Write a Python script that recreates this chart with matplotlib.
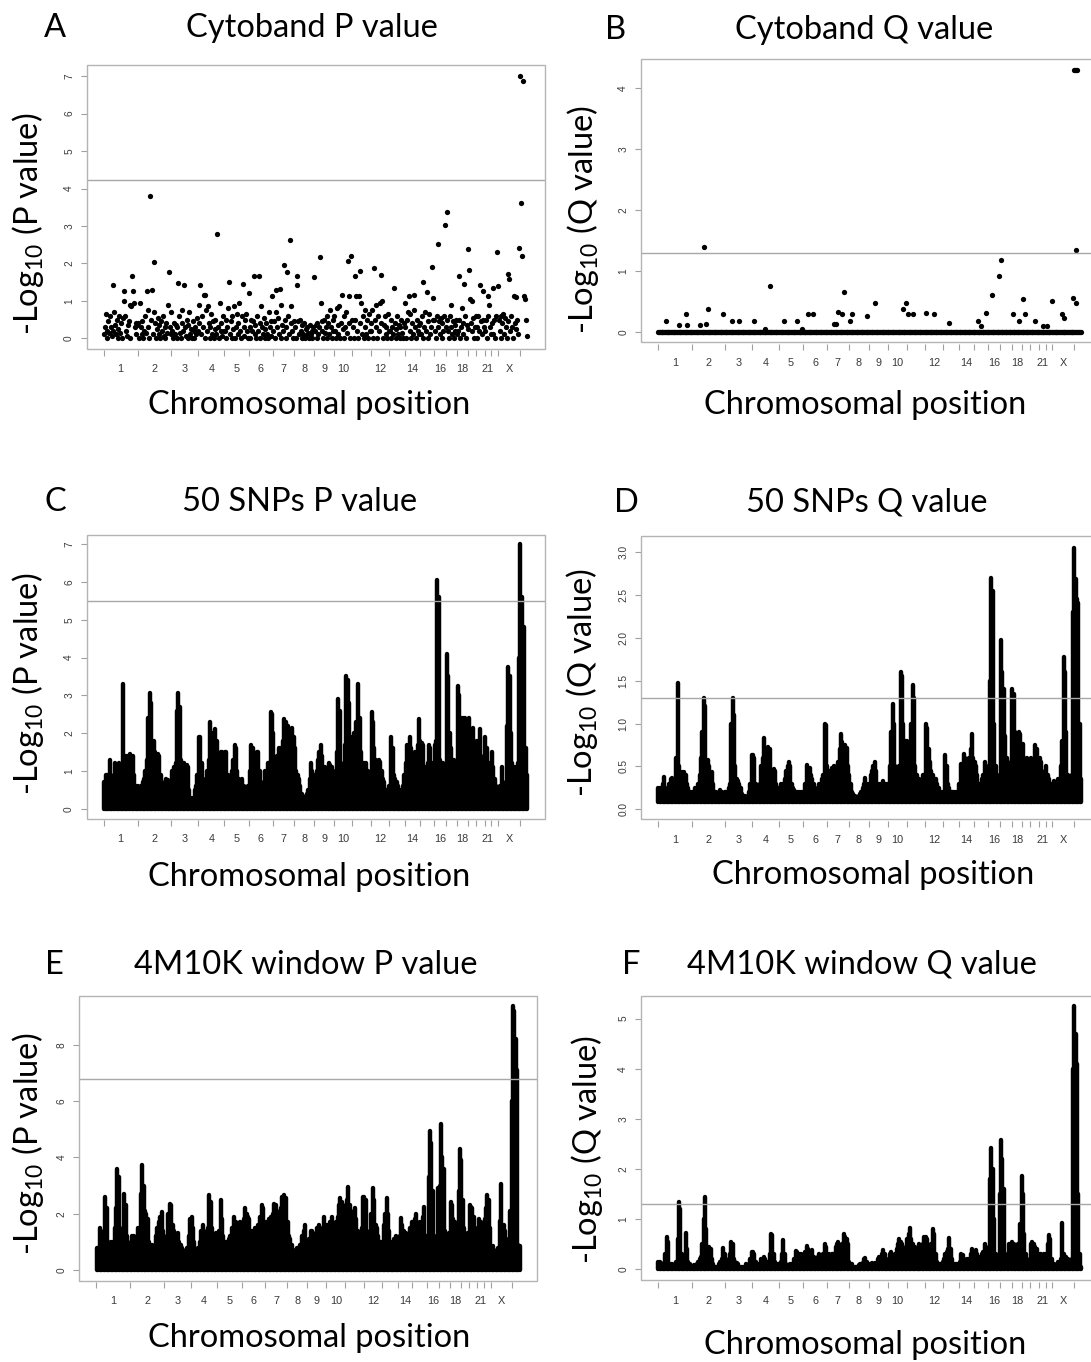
import numpy as np
import matplotlib
matplotlib.use('Agg')
import matplotlib.pyplot as plt
from matplotlib.patches import Rectangle

# chromosome layout (Mb), last segment is the unlabelled one after X
chrom_names = ['1', '2', '3', '4', '5', '6', '7', '8', '9', '10', '11', '12', '13',
               '14', '15', '16', '17', '18', '19', '20', '21', '22', 'X', 'Y']
chrom_len = [249, 243, 198, 191, 181, 171, 159, 146, 141, 136, 135, 134, 115,
             107, 103, 90, 81, 78, 59, 63, 48, 51, 155, 59]
shown_labels = ['1', '2', '3', '4', '5', '6', '7', '8', '9', '10', '12', '14',
                '16', '18', '21', 'X']

# A: cytoband -log10 P, one list per chromosome (bands in order)
cyto_p = [
    [0.1, 0.3, 0.65, 0.2, 0.0, 0.45, 0.15, 0.6, 0.3, 0.05, 1.41, 0.2, 0.7, 0.35, 0.1, 0.5, 0.0, 0.25, 0.6, 0.15,
     0.4, 0.0, 0.55, 1.0, 1.25, 0.6, 0.2, 0.05, 0.35, 0.45, 0.0, 0.9, 0.85, 1.65, 1.25, 0.95, 0.3, 0.4, 0.1, 0.35],
    [0.4, 0.0, 0.95, 0.3, 0.1, 0.45, 0.0, 0.2, 0.6, 0.15, 1.25, 0.75, 0.3, 0.0, 3.79, 0.5, 1.3, 0.1, 2.03, 0.7,
     0.4, 0.0, 0.25, 0.55, 0.1, 0.35, 0.0, 0.45, 0.2, 0.6, 0.05, 0.3, 0.0, 0.4, 0.15, 0.9, 1.76, 0.3, 0.1],
    [0.7, 0.2, 0.0, 0.4, 0.1, 0.35, 0.0, 0.3, 1.48, 0.6, 0.15, 0.0, 0.4, 0.75, 0.2, 1.43, 0.3, 0.05, 0.5, 0.0,
     0.35, 0.7, 0.1, 0.25, 0.0, 0.45, 0.2, 0.0, 0.3, 0.1, 0.55, 0.2],
    [0.4, 0.9, 1.41, 0.1, 0.6, 0.3, 1.15, 1.15, 0.0, 0.75, 0.2, 0.85, 0.4, 0.0, 0.3, 0.65, 0.1, 0.45, 0.0, 0.25,
     0.5, 0.1, 2.78, 0.3, 0.0, 0.95, 0.2, 0.4, 0.05, 0.6, 0.2],
    [0.2, 0.5, 0.0, 0.3, 0.8, 1.5, 0.1, 0.45, 0.0, 0.6, 0.25, 0.85, 0.0, 0.3, 0.65, 0.1, 0.4, 0.95, 0.2, 0.0,
     0.6, 1.46, 0.3, 0.05, 0.5, 0.65, 0.2, 0.0, 1.2],
    [0.3, 0.0, 0.5, 0.2, 0.45, 1.67, 0.1, 0.35, 0.0, 0.6, 0.2, 1.67, 0.4, 0.0, 0.85, 0.3, 0.1, 0.55, 0.0, 0.25,
     0.4, 0.1, 0.0, 0.7, 0.3, 0.45, 0.05, 1.14],
    [0.2, 0.45, 0.0, 0.7, 1.3, 0.3, 0.55, 0.1, 1.32, 0.0, 0.9, 0.35, 0.2, 1.96, 0.5, 0.0, 0.3, 1.76, 0.6, 0.1,
     2.63, 0.4, 0.87, 0.2, 0.0, 0.45],
    [0.3, 0.0, 1.43, 1.67, 0.45, 0.1, 0.5, 0.2, 0.0, 0.35, 0.1, 0.4, 0.0, 0.25, 0.05, 0.3, 0.15, 0.0, 0.35, 0.1,
     0.2, 0.0, 0.3, 1.63],
    [0.2, 0.35, 0.0, 0.4, 0.1, 0.3, 2.17, 0.94, 0.2, 0.45, 0.0, 0.5, 0.15, 0.3, 0.6, 0.0, 0.4, 0.1, 0.75, 0.3,
     0.0, 0.5, 0.2],
    [0.6, 0.2, 0.0, 0.8, 0.35, 0.1, 0.85, 0.0, 0.4, 1.16, 0.25, 0.6, 0.0, 0.3, 0.7, 0.15, 2.05, 1.12, 0.4, 0.0,
     2.19, 0.5],
    [0.3, 0.0, 0.5, 1.67, 1.12, 0.2, 0.0, 1.12, 1.79, 0.4, 0.95, 0.1, 0.6, 0.0, 0.75, 0.3, 0.1, 0.5, 0.0, 0.65,
     0.2, 0.4],
    [0.2, 0.75, 0.0, 1.88, 0.5, 0.9, 0.3, 0.0, 0.6, 0.2, 0.95, 1.69, 0.4, 1.0, 0.0, 0.35, 0.6, 0.1, 0.3, 0.0,
     0.65, 0.2],
    [0.2, 0.0, 0.5, 0.3, 0.1, 1.34, 0.4, 0.0, 0.25, 0.6, 0.1, 0.35, 0.0, 0.3, 0.5, 0.15, 0.0, 0.4, 0.94],
    [0.3, 0.0, 0.5, 0.7, 1.12, 0.2, 0.65, 0.0, 0.4, 0.1, 0.75, 1.16, 0.3, 0.0, 0.5, 0.2, 0.35, 0.1],
    [0.4, 0.1, 0.6, 0.0, 1.5, 0.3, 0.7, 0.2, 1.24, 0.0, 0.45, 0.65, 0.1, 0.3, 1.9, 0.5, 1.08],
    [0.5, 0.2, 0.0, 0.6, 2.52, 0.3, 0.45, 0.1, 0.55, 0.0, 0.4, 0.2, 0.6, 3.02, 0.3],
    [3.36, 0.5, 0.2, 0.0, 0.6, 0.3, 0.9, 0.1, 0.45, 0.0, 0.35, 0.2, 0.5, 0.1],
    [0.2, 0.5, 1.67, 0.0, 0.3, 0.8, 0.1, 0.4, 1.45, 0.6, 0.0, 0.35, 0.25],
    [2.38, 1.81, 1.06, 0.4, 1.0, 0.2, 0.55, 0.0, 0.3, 0.6],
    [0.3, 0.0, 0.6, 0.2, 1.43, 0.45, 0.1, 0.5, 1.25, 0.3],
    [0.2, 0.5, 0.0, 0.6, 1.12, 0.9, 0.3, 0.1],
    [0.4, 0.1, 1.34, 0.5, 0.0, 0.6, 2.3, 1.39],
    [0.5, 0.2, 0.6, 0.0, 0.4, 0.65, 0.1, 0.55, 0.3, 0.0, 1.72, 0.45, 1.57, 0.2, 0.6, 0.3, 0.0, 1.12, 0.4, 0.25,
     1.1, 0.5, 0.1, 2.41],
    [7.0, 3.6, 2.19, 6.88, 1.14, 1.05, 0.5, 0.05],
]

# B: cytoband -log10 Q, bands above zero as (genome Mb, value); all other bands sit at 0
cyto_q_pos = [63, 157, 208, 210, 309, 339, 352, 365, 473, 542, 592, 701, 780, 822, 919, 1013, 1050, 1094,
              1132, 1284, 1297, 1316, 1342, 1359, 1405, 1415, 1524, 1582, 1785, 1808, 1828, 1861, 1960, 2013,
              2124, 2334, 2360, 2397, 2441, 2491, 2506, 2592, 2638, 2663, 2676, 2752, 2810, 2840, 2873, 2949,
              2962, 3030, 3051, 3036, 3044, 3052, 3060, 3051]
cyto_q_val = [0.18, 0.11, 0.29, 0.11, 0.11, 1.40, 0.13, 0.38, 0.29, 0.18, 0.18, 0.18, 0.05, 0.75, 0.18, 0.18,
              0.05, 0.29, 0.29, 0.13, 0.13, 0.33, 0.29, 0.65, 0.18, 0.29, 0.26, 0.48, 0.37, 0.48, 0.29, 0.29,
              0.31, 0.29, 0.15, 0.18, 0.1, 0.31, 0.6, 0.92, 1.18, 0.29, 0.18, 0.54, 0.29, 0.18, 0.1, 0.1,
              0.5, 0.29, 0.22, 0.55, 0.48, 4.3, 4.3, 4.3, 4.3, 1.34]

# C: 50 SNP window -log10 P, upper envelope along each chromosome
snp_p = [
    [0.7, 0.9, 0.9, 0.6, 1.3, 0.5, 0.8, 0.9, 1.2, 1.0, 0.7, 1.2, 0.6, 0.9, 3.3, 1.4, 1.2, 1.4, 1.3, 1.45, 1.2, 1.4, 0.9, 0.6, 0.5],
    [0.6, 0.5, 0.6, 0.7, 0.8, 1.0, 1.3, 2.4, 3.05, 2.8, 1.8, 1.8, 1.5, 1.0, 1.45, 1.4, 0.9, 0.6, 0.5, 0.7, 0.8, 0.75, 0.6, 0.5],
    [1.0, 1.0, 1.1, 1.2, 2.6, 3.05, 2.7, 1.3, 1.0, 1.2, 1.1, 1.15, 1.1, 0.5, 0.3, 0.25, 0.3, 0.5, 0.6, 0.9],
    [1.9, 1.9, 1.2, 0.8, 0.6, 0.8, 1.0, 1.3, 2.3, 1.9, 2.0, 1.5, 2.1, 1.8, 1.0, 1.3, 1.5, 1.5, 0.8],
    [1.5, 1.5, 0.9, 0.8, 0.9, 1.0, 1.3, 1.7, 1.6, 1.0, 0.8, 0.7, 0.8, 0.6, 0.6, 0.55, 0.5, 0.6],
    [1.0, 1.7, 1.6, 0.8, 1.2, 1.5, 1.5, 1.0, 0.7, 0.5, 0.6, 1.0, 0.8, 1.2, 1.2, 2.55, 2.5],
    [2.0, 1.3, 1.2, 1.4, 1.6, 1.5, 1.6, 1.8, 2.38, 2.3, 1.7, 2.2, 2.1, 1.8, 2.15, 1.9],
    [1.6, 1.0, 0.9, 0.8, 0.6, 0.4, 0.35, 0.3, 0.3, 0.4, 0.5, 0.8, 1.2, 1.0, 0.9],
    [0.9, 1.0, 1.3, 1.5, 1.7, 1.4, 1.0, 1.1, 1.0, 0.8, 1.2, 1.15, 1.1, 1.0],
    [0.8, 1.0, 1.5, 2.9, 2.6, 1.2, 0.6, 0.6, 1.7, 3.5, 3.4, 2.8, 1.8, 1.9],
    [1.9, 2.0, 2.3, 2.1, 3.3, 2.4, 1.5, 1.2, 1.2, 1.0, 1.2, 1.0, 0.9, 0.9],
    [2.55, 2.3, 1.6, 1.3, 1.2, 1.3, 1.25, 1.0, 0.8, 0.7, 0.5, 0.5, 0.6],
    [0.6, 1.9, 1.6, 0.9, 0.8, 0.7, 0.6, 0.5, 0.5, 0.4, 0.6, 0.9],
    [1.2, 1.7, 1.5, 1.9, 1.6, 1.3, 1.4, 1.5, 1.2, 1.7, 2.38],
    [1.8, 1.75, 1.7, 1.0, 1.1, 1.2, 1.7, 1.6, 1.2, 1.0],
    [1.7, 1.8, 6.05, 5.6, 1.3, 1.0, 1.2, 1.0, 0.9],
    [4.1, 3.5, 2.0, 1.6, 1.0, 1.3, 0.9, 1.2],
    [3.25, 3.0, 2.4, 1.5, 2.4, 2.4, 2.0, 1.6],
    [2.4, 2.0, 1.85, 2.15, 1.8, 1.5],
    [1.8, 1.6, 2.1, 1.4, 1.2, 1.0],
    [1.9, 1.6, 1.0, 1.2, 0.9],
    [1.5, 1.1, 0.8, 0.6, 0.5],
    [0.5, 0.6, 1.1, 0.7, 0.5, 0.6, 2.2, 3.75, 3.5, 2.0, 1.2, 1.0, 1.1, 0.8, 1.2, 4.0],
    [7.0, 5.6, 4.8, 4.8, 1.6, 0.9],
]

# D: 50 SNP window -log10 Q
snp_q = [
    [0.25, 0.25, 0.2, 0.3, 0.38, 0.25, 0.2, 0.25, 0.3, 0.35, 0.37, 0.3, 0.35, 0.6, 1.47, 0.5, 0.4, 0.43, 0.42, 0.44, 0.4, 0.3, 0.25, 0.2, 0.2],
    [0.2, 0.2, 0.25, 0.2, 0.3, 0.4, 0.6, 0.9, 1.3, 1.2, 0.58, 0.58, 0.5, 0.3, 0.43, 0.3, 0.2, 0.2, 0.18, 0.2, 0.22, 0.2, 0.18, 0.2],
    [0.2, 0.2, 0.25, 0.3, 1.0, 1.3, 1.1, 0.5, 0.35, 0.33, 0.3, 0.25, 0.18, 0.15, 0.15, 0.14, 0.15, 0.2, 0.3, 0.63],
    [0.63, 0.6, 0.3, 0.25, 0.2, 0.3, 0.5, 0.6, 0.83, 0.6, 0.55, 0.73, 0.7, 0.4, 0.35, 0.47, 0.45, 0.3, 0.25],
    [0.25, 0.3, 0.25, 0.3, 0.35, 0.45, 0.5, 0.55, 0.5, 0.3, 0.25, 0.22, 0.2, 0.2, 0.2, 0.18, 0.2, 0.2],
    [0.2, 0.3, 0.52, 0.45, 0.48, 0.4, 0.35, 0.3, 0.25, 0.2, 0.25, 0.3, 0.3, 0.35, 0.4, 1.0, 0.98],
    [0.5, 0.4, 0.45, 0.48, 0.45, 0.5, 0.48, 0.5, 0.55, 0.7, 0.88, 0.78, 0.6, 0.75, 0.72, 0.5],
    [0.4, 0.3, 0.2, 0.18, 0.15, 0.14, 0.14, 0.15, 0.18, 0.2, 0.25, 0.3, 0.37, 0.3, 0.2],
    [0.3, 0.4, 0.45, 0.5, 0.55, 0.45, 0.3, 0.28, 0.3, 0.3, 0.33, 0.3, 0.25, 0.3],
    [0.3, 0.5, 0.9, 1.23, 1.0, 0.5, 0.3, 0.3, 0.5, 1.6, 1.55, 1.0, 0.8, 0.55],
    [0.8, 0.7, 0.6, 1.0, 1.45, 1.3, 0.5, 0.4, 0.35, 0.35, 0.3, 0.35, 0.4, 0.4],
    [1.0, 0.95, 0.7, 0.55, 0.45, 0.4, 0.35, 0.35, 0.3, 0.25, 0.2, 0.2, 0.2],
    [0.2, 0.63, 0.5, 0.3, 0.25, 0.2, 0.2, 0.2, 0.2, 0.18, 0.2, 0.3],
    [0.3, 0.53, 0.5, 0.65, 0.6, 0.5, 0.55, 0.6, 0.7, 0.88, 0.6],
    [0.55, 0.5, 0.4, 0.3, 0.3, 0.35, 0.4, 0.55, 0.5, 0.4],
    [0.5, 1.5, 2.7, 2.55, 1.0, 0.5, 0.4, 0.35, 0.4],
    [1.97, 1.6, 1.4, 0.85, 0.6, 0.5, 0.45, 0.55],
    [1.4, 1.35, 0.9, 0.85, 0.8, 0.9, 0.88, 0.6],
    [0.76, 0.6, 0.55, 0.6, 0.5, 0.45],
    [0.6, 0.55, 0.5, 0.75, 0.7, 0.5],
    [0.6, 0.55, 0.45, 0.4, 0.35],
    [0.5, 0.4, 0.35, 0.3, 0.3],
    [0.3, 0.33, 0.32, 0.3, 0.35, 0.3, 0.5, 0.8, 1.78, 1.6, 0.9, 0.4, 0.35, 0.35, 0.4, 2.3],
    [3.05, 2.68, 2.45, 2.4, 1.0, 0.35],
]

# E: 4M10K window -log10 P
win_p = [
    [0.8, 0.8, 1.5, 1.4, 1.2, 1.3, 2.6, 2.2, 1.0, 0.9, 1.0, 0.9, 1.0, 1.5, 2.2, 3.6, 3.3, 1.5, 1.2, 1.4, 2.7, 2.3, 1.2, 1.0, 0.7],
    [0.7, 1.2, 1.2, 0.9, 1.0, 1.5, 1.4, 2.7, 3.72, 3.0, 2.1, 2.0, 1.8, 1.0, 0.8, 0.9, 0.8, 0.9, 1.2, 1.5, 1.7, 1.9, 2.05, 1.4],
    [1.2, 1.1, 1.0, 2.0, 2.35, 2.3, 1.6, 1.4, 1.3, 1.2, 1.3, 1.0, 0.9, 0.8, 0.7, 0.5, 0.6, 0.8, 1.2, 1.8],
    [1.9, 1.5, 1.0, 0.6, 0.4, 0.8, 1.0, 1.4, 1.6, 1.3, 1.2, 1.4, 1.5, 2.65, 2.4, 1.5, 1.2, 1.0, 1.3],
    [1.0, 1.4, 2.5, 1.8, 1.2, 1.0, 1.0, 0.9, 1.1, 1.2, 1.5, 1.3, 1.9, 1.7, 1.5, 1.6, 1.7, 1.4],
    [1.7, 1.8, 2.2, 2.0, 1.9, 1.8, 1.3, 1.4, 1.2, 1.5, 1.4, 1.6, 1.5, 1.9, 2.3, 2.2, 1.6],
    [1.7, 1.5, 1.8, 1.6, 1.9, 2.0, 2.35, 2.3, 2.1, 1.8, 2.0, 2.2, 2.6, 2.65, 2.5, 2.55],
    [1.7, 1.2, 1.1, 0.9, 0.7, 0.6, 0.7, 0.8, 0.8, 0.9, 0.9, 1.2, 1.4, 1.6, 1.0],
    [0.9, 1.1, 1.4, 1.4, 1.3, 1.0, 1.1, 1.5, 1.6, 1.5, 1.3, 1.5, 1.9, 1.6],
    [1.5, 1.6, 1.7, 1.6, 1.9, 1.6, 1.5, 1.7, 1.9, 2.3, 2.55, 2.4, 2.3, 2.2],
    [2.2, 2.5, 2.95, 2.3, 2.1, 2.0, 1.9, 2.2, 1.8, 1.4, 1.3, 1.2, 1.5, 2.6],
    [2.6, 2.5, 1.3, 1.2, 1.4, 2.0, 2.9, 2.5, 1.6, 1.5, 1.2, 1.0, 1.0],
    [0.9, 1.6, 2.0, 2.55, 2.0, 1.4, 1.0, 0.9, 1.0, 1.1, 1.2, 1.0],
    [1.0, 1.2, 1.85, 1.6, 1.4, 1.2, 1.3, 1.2, 1.1, 1.5, 1.7],
    [1.5, 1.8, 1.98, 1.7, 1.6, 1.7, 1.5, 1.9, 2.25, 1.2],
    [1.2, 3.3, 4.95, 4.5, 2.8, 1.2, 1.1, 1.2, 2.9],
    [3.0, 5.2, 4.0, 3.6, 1.4, 1.2, 1.0, 1.3],
    [2.4, 2.3, 1.8, 1.7, 1.5, 1.6, 2.8, 4.3],
    [3.9, 2.5, 1.5, 1.3, 1.2, 1.3],
    [2.3, 2.25, 2.2, 1.9, 1.5, 1.4],
    [1.5, 1.8, 1.7, 1.3, 1.1],
    [1.8, 2.2, 2.65, 2.5, 1.5],
    [0.8, 0.85, 0.7, 0.5, 0.6, 0.8, 1.75, 3.05, 1.5, 1.6, 1.4, 1.1, 1.0, 1.1, 2.1, 6.0],
    [9.4, 9.2, 8.2, 7.1, 0.9, 0.85],
]

# F: 4M10K window -log10 Q
win_q = [
    [0.15, 0.15, 0.12, 0.1, 0.1, 0.3, 0.65, 0.55, 0.1, 0.1, 0.1, 0.05, 0.1, 0.15, 0.6, 1.35, 1.2, 0.3, 0.2, 0.15, 0.72, 0.4, 0.15, 0.1, 0.05],
    [0.05, 0.08, 0.05, 0.1, 0.15, 0.2, 0.25, 0.5, 1.0, 1.45, 0.8, 0.45, 0.45, 0.4, 0.2, 0.1, 0.05, 0.05, 0.05, 0.1, 0.15, 0.2, 0.42, 0.3],
    [0.1, 0.15, 0.2, 0.3, 0.55, 0.5, 0.2, 0.15, 0.12, 0.1, 0.05, 0.05, 0.05, 0.05, 0.05, 0.1, 0.05, 0.1, 0.2, 0.35],
    [0.35, 0.3, 0.15, 0.1, 0.1, 0.1, 0.2, 0.15, 0.25, 0.2, 0.15, 0.15, 0.3, 0.7, 0.68, 0.3, 0.15, 0.1, 0.1],
    [0.1, 0.15, 0.3, 0.58, 0.3, 0.1, 0.05, 0.05, 0.1, 0.1, 0.1, 0.2, 0.37, 0.35, 0.3, 0.25, 0.3, 0.2],
    [0.3, 0.35, 0.47, 0.4, 0.3, 0.35, 0.38, 0.25, 0.2, 0.2, 0.25, 0.3, 0.25, 0.2, 0.3, 0.5, 0.45],
    [0.25, 0.3, 0.25, 0.3, 0.3, 0.3, 0.45, 0.5, 0.55, 0.4, 0.45, 0.5, 0.7, 0.65, 0.6, 0.5],
    [0.15, 0.1, 0.1, 0.05, 0.05, 0.05, 0.05, 0.08, 0.1, 0.1, 0.12, 0.2, 0.22, 0.15, 0.1],
    [0.1, 0.05, 0.12, 0.1, 0.12, 0.1, 0.2, 0.25, 0.2, 0.3, 0.38, 0.3, 0.2, 0.15],
    [0.2, 0.3, 0.35, 0.2, 0.25, 0.3, 0.4, 0.5, 0.6, 0.55, 0.5, 0.45, 0.4, 0.3],
    [0.6, 0.7, 0.83, 0.6, 0.5, 0.4, 0.45, 0.3, 0.4, 0.5, 0.3, 0.2, 0.5, 0.65],
    [0.65, 0.6, 0.3, 0.2, 0.5, 0.8, 0.7, 0.3, 0.15, 0.1, 0.1, 0.1, 0.15],
    [0.2, 0.3, 0.35, 0.4, 0.62, 0.4, 0.2, 0.1, 0.1, 0.1, 0.1, 0.1],
    [0.15, 0.3, 0.28, 0.2, 0.15, 0.2, 0.15, 0.2, 0.3, 0.4, 0.3],
    [0.3, 0.38, 0.3, 0.25, 0.2, 0.3, 0.35, 0.5, 0.45, 0.3],
    [0.3, 1.8, 2.43, 2.0, 1.0, 0.3, 0.25, 0.2, 1.5],
    [2.58, 2.2, 1.6, 0.3, 0.25, 0.3, 0.5, 0.4],
    [0.55, 0.5, 0.45, 0.4, 0.5, 0.45, 0.9, 1.87],
    [1.5, 0.7, 0.3, 0.2, 0.15, 0.1],
    [0.5, 0.55, 0.5, 0.45, 0.4, 0.3],
    [0.3, 0.3, 0.25, 0.3, 0.2],
    [0.3, 0.5, 0.68, 0.6, 0.2],
    [0.1, 0.1, 0.05, 0.1, 0.15, 0.1, 0.2, 0.93, 0.3, 0.15, 0.25, 0.2, 0.1, 0.1, 0.2, 4.0],
    [5.25, 4.7, 4.1, 1.5, 0.3, 0.05],
]

thresholds = {'A': 4.23, 'B': 1.3, 'C': 5.5, 'D': 1.3, 'E': 6.8, 'F': 1.3}

W, H = 1091, 1362
plt.rcParams['font.family'] = 'Liberation Sans'
plt.rcParams['mathtext.fontset'] = 'custom'
plt.rcParams['mathtext.rm'] = 'Lato'
plt.rcParams['mathtext.default'] = 'regular'
BIG = dict(family='Lato', fontsize=23.5, color='black')

starts = np.concatenate([[0], np.cumsum(chrom_len)[:-1]])
G = float(sum(chrom_len))
centers = [starts[i] + chrom_len[i] / 2 for i, c in enumerate(chrom_names) if c in shown_labels]


def positions(lists):
    xs, ys = [], []
    for s, ln, vals in zip(starts, chrom_len, lists):
        n = len(vals)
        xs.extend(s + (np.arange(n) + 0.5) / n * ln)
        ys.extend(vals)
    return np.array(xs), np.array(ys)


def make_axes(left, top, bottom, ylim, yticks, ylabels, thresh):
    ax = fig.add_axes([left / W, 1 - bottom / H, 458 / W, (bottom - top) / H])
    ax.set_xlim(-0.04 * G, 1.04 * G)
    ax.set_ylim(*ylim)
    for sp in ax.spines.values():
        sp.set_visible(False)
    ax.spines['bottom'].set_position(('outward', 1.2))
    ax.add_patch(Rectangle((0, 0), 1, 1, transform=ax.transAxes, fill=False,
                           ec='#b4b4b4', lw=1.0, clip_on=False, zorder=5))
    ax.axhline(thresh, color='#a8a8a8', lw=1.0, zorder=4)
    ax.set_xticks(starts)
    ax.set_xticklabels([])
    ax.set_xticks(centers, labels=shown_labels, minor=True)
    ax.tick_params(axis='x', which='major', length=4.3, width=0.8, color='#a0a0a0')
    ax.tick_params(axis='x', which='minor', length=0, pad=10, labelsize=7.8, labelcolor='#3a3a3a')
    ax.set_yticks(yticks)
    ax.set_yticklabels(ylabels)
    ax.tick_params(axis='y', length=4, width=0.8, color='#a0a0a0', pad=5, labelsize=7.3,
                   labelcolor='#3a3a3a', labelrotation=90)
    for lab in ax.get_yticklabels():
        lab.set_va('center')
    return ax


def texts(letter, lx, title, tx, ty, ylab, yx, yy, xx, xy):
    fig.text(lx / W, 1 - ty / H, letter, ha='center', va='center', **BIG)
    fig.text(tx / W, 1 - ty / H, title, ha='center', va='center', **BIG)
    fig.text(yx / W, 1 - yy / H, ylab, ha='center', va='center', rotation=90, **BIG)
    fig.text(xx / W, 1 - xy / H, 'Chromosomal position', ha='center', va='center', **BIG)


fig = plt.figure(figsize=(W / 100, H / 100), dpi=100)
PLAB = '-Log$_{10}$ (P value)'
QLAB = '-Log$_{10}$ (Q value)'
DOT = dict(color='black', ms=3.8, mew=0, ls='none', marker='o')

# A
ax = make_axes(86.6, 65, 348.7, (-0.28, 7.3), range(8), [str(i) for i in range(8)], thresholds['A'])
x, y = positions(cyto_p)
ax.plot(x, y, **DOT)
texts('A', 55, 'Cytoband P value', 312, 28, PLAB, 28, 224, 309, 405)

# B
ax = make_axes(640.8, 59.3, 342.3, (-0.172, 4.472), range(5), [str(i) for i in range(5)], thresholds['B'])
x0, _ = positions(cyto_p)
ax.plot(x0, np.zeros_like(x0), **DOT)
ax.plot(cyto_q_pos, cyto_q_val, **DOT)
texts('B', 616, 'Cytoband Q value', 864, 30, QLAB, 583, 220, 865, 405)

# C
ax = make_axes(86.6, 535, 818.7, (-0.26, 7.24), range(8), [str(i) for i in range(8)], thresholds['C'])
x, y = positions(snp_p)
ax.vlines(x, 0.0, y, colors='black', lw=3.2, capstyle='round')
texts('C', 55, '50 SNPs P value', 300, 502, PLAB, 28, 684, 309, 877)

# D
dt = [0.0, 0.5, 1.0, 1.5, 2.0, 2.5, 3.0]
ax = make_axes(640.8, 535.7, 819, (-0.113, 3.19), dt, ['%.1f' % v for v in dt], thresholds['D'])
x, y = positions(snp_q)
ax.vlines(x, 0.09, y, colors='black', lw=3.2, capstyle='round')
texts('D', 626, '50 SNPs Q value', 867, 503, QLAB, 582, 683, 873, 875)

# E
et = [0, 2, 4, 6, 8]
ax = make_axes(79.3, 996, 1280.7, (-0.38, 9.74), et, [str(v) for v in et], thresholds['E'])
x, y = positions(win_p)
ax.vlines(x, 0.0, y, colors='black', lw=3.2, capstyle='round')
texts('E', 54, '4M10K window P value', 306, 965, PLAB, 28, 1144, 309, 1338)

# F
ax = make_axes(640.8, 996, 1280, (-0.21, 5.45), range(6), [str(i) for i in range(6)], thresholds['F'])
x, y = positions(win_q)
ax.vlines(x, 0.0, y, colors='black', lw=3.2, capstyle='round')
texts('F', 631, '4M10K window Q value', 862, 965, QLAB, 587, 1150, 865, 1345)

fig.savefig('out.png', dpi=100)
